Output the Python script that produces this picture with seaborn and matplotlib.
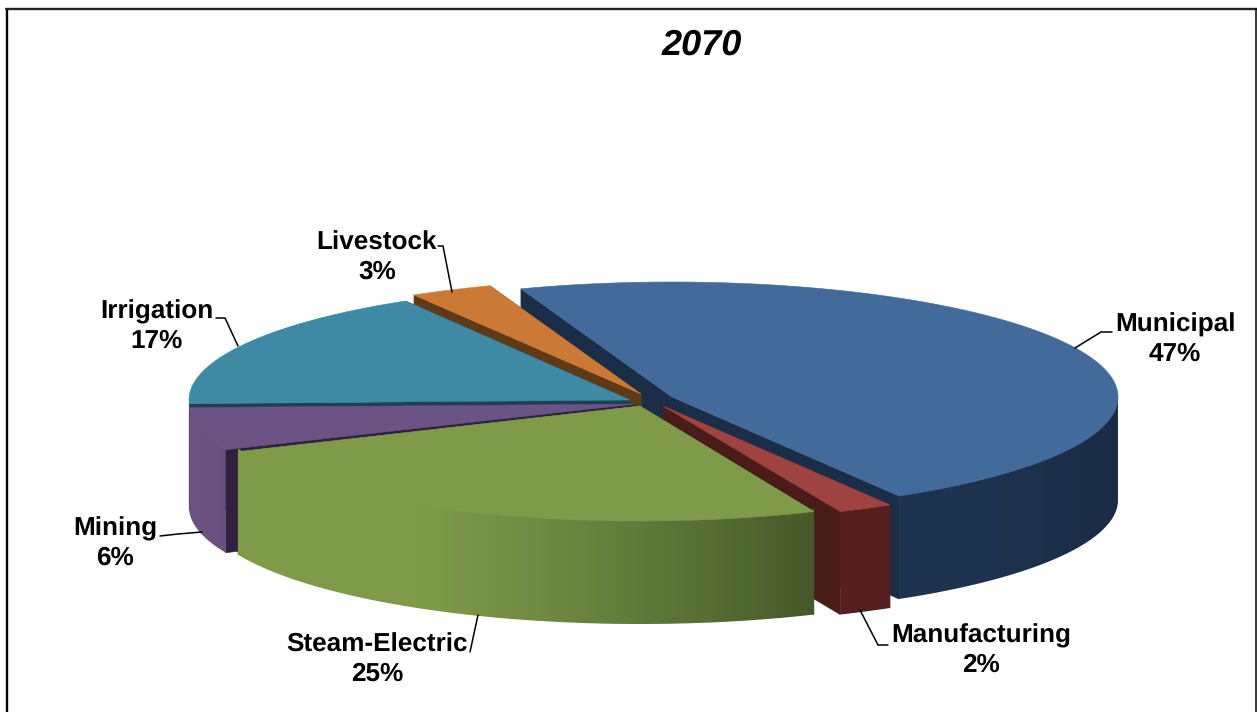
import numpy as np
import matplotlib
matplotlib.use("Agg")
import matplotlib.pyplot as plt
import matplotlib.colors as mc
from matplotlib.patches import Polygon
import seaborn as sns

# Water-use shares for 2070, in percent
sectors = ["Municipal", "Manufacturing", "Steam-Electric", "Mining", "Irrigation", "Livestock"]
shares = [47, 2, 25, 6, 17, 3]

# Slice colours
top_hex = ["#426B9C", "#9F4341", "#7F9B4A", "#6B5384", "#3E8AA5", "#CB7A35"]
side_left_hex = ["#1E3350", "#55201F", "#7F9B4A", "#6B5384", "#214B5B", "#6F4219"]
side_right_hex = ["#1A2C45", "#55201F", "#45592A", "#67507F", "#214B5B", "#6F4219"]
cut_hex = ["#1B2E47", "#491C1A", "#45592A", "#2F2140", "#1C4250", "#5F3A17"]

# Projection of the tilted disc onto the canvas (pixel-like axes)
CX, CY = 640, 400
RY = 115
DEPTH = 103
START_DEG = 109.8
# Per-slice horizontal radius and screen offset of each exploded slice
radii_x = [446, 446, 438, 446, 441, 446]
offsets = [(32, -3), (23, 6), (0, 6), (-5, 4), (-10, 0), (1, -6)]
# Back-to-front painting order
draw_order = [0, 5, 4, 3, 1, 2]

# Label centres and leader-line vertices
label_xy = [(1175, 339.5), (981, 650.5), (377, 659.5), (115, 543.5), (157, 326.5), (377, 257.5)]
leaders = [
    [(1075, 348), (1101, 332), (1112, 332)],
    [(860, 610), (878, 645), (888, 645)],
    [(478, 615), (470, 652)],
    [(202, 532), (178, 534), (160, 536)],
    [(238, 346), (225, 318), (216, 318)],
    [(452, 292), (443, 246), (438, 246)],
]

sns.set_theme(style="white")
plt.rcParams["font.family"] = ["Liberation Sans", "DejaVu Sans"]
plt.rcParams["text.hinting"] = "none"
top_cols = sns.color_palette(top_hex)
cut_cols = sns.color_palette(cut_hex)

fig, ax = plt.subplots(figsize=(12.57, 7.12), dpi=100)
fig.subplots_adjust(0, 0, 1, 1)
ax.axis("off")

# Cumulative angles, running clockwise from the start angle
fractions = np.array(shares, dtype=float) / np.sum(shares)
edges = START_DEG - 360 * np.concatenate([[0], np.cumsum(fractions)])

layer = [1]


def next_z():
    layer[0] += 1
    return layer[0]


def rim(tip, rx, deg):
    rad = np.radians(deg)
    return tip[0] + rx * np.cos(rad), tip[1] - RY * np.sin(rad)


def draw_wall(i, fx, fy):
    # Outer wall painted as a horizontal gradient clipped to the curved band;
    # its upper edge runs a little under the top surface to avoid a seam
    order = np.argsort(fx)
    fx, fy = fx[order], fy[order]
    left = np.array(mc.to_rgb(side_left_hex[i]))
    right = np.array(mc.to_rgb(side_right_hex[i]))
    u = np.linspace(0, 1, 512)
    w = np.clip((u - 0.3) / 0.7, 0, 1) ** 1.2
    ramp = (left[None, :] + (right - left)[None, :] * w[:, None])[None, :, :]
    top_y, bottom_y = fy.min() - 3, fy.max() + DEPTH
    im = ax.imshow(ramp, extent=(fx[0], fx[-1], bottom_y, top_y), aspect="auto",
                   zorder=next_z(), interpolation="bilinear")
    band = Polygon(np.c_[np.r_[fx, fx[::-1]], np.r_[fy - 3, fy[::-1] + DEPTH]],
                   closed=True, transform=ax.transData)
    im.set_clip_path(band)


def draw_slice(i):
    tip = (CX + offsets[i][0], CY + offsets[i][1])
    rx = radii_x[i]
    angles = np.linspace(edges[i], edges[i + 1], 200)
    xs, ys = rim(tip, rx, angles)

    # Radial cut faces
    for end_x, end_y in [(xs[0], ys[0]), (xs[-1], ys[-1])]:
        ax.fill([tip[0], end_x, end_x, tip[0]],
                [tip[1], end_y, end_y + DEPTH, tip[1] + DEPTH],
                color=cut_cols[i], lw=0.4, zorder=next_z())

    # Outer wall, only along the front half of the rim
    front = np.sin(np.radians(angles)) <= 0
    if front.sum() > 1:
        draw_wall(i, xs[front], ys[front])

    # Top surface
    ax.fill(np.r_[tip[0], xs], np.r_[tip[1], ys], color=top_cols[i], lw=0.4,
            zorder=next_z())


for i in draw_order:
    draw_slice(i)

ax.set_xlim(0, 1257)
ax.set_ylim(712, 0)

# Labels and leader lines
label_z = next_z()
for name, share, (lx, ly), path in zip(sectors, shares, label_xy, leaders):
    px, py = zip(*path)
    ax.plot(px, py, color="black", lw=1.1, solid_joinstyle="miter", zorder=label_z)
    ax.text(lx, ly, f"{name}\n{share}%", ha="center", va="center",
            fontsize=18.8, fontweight="bold", color="black", linespacing=1.24,
            zorder=label_z)

ax.text(702, 45, "2070", ha="center", va="center", fontsize=26,
        fontweight="bold", fontstyle="italic", color="black", zorder=label_z)

# Chart frame, open at the bottom
ax.plot([7, 7], [712, 8.5], color="black", lw=1.7, zorder=label_z)
ax.plot([6, 1256.5], [8.5, 8.5], color="#222222", lw=1.7, zorder=label_z)
ax.plot([1256, 1256], [8.5, 712], color="black", lw=1.1, zorder=label_z)

fig.savefig("out.png", dpi=100, facecolor="white")
